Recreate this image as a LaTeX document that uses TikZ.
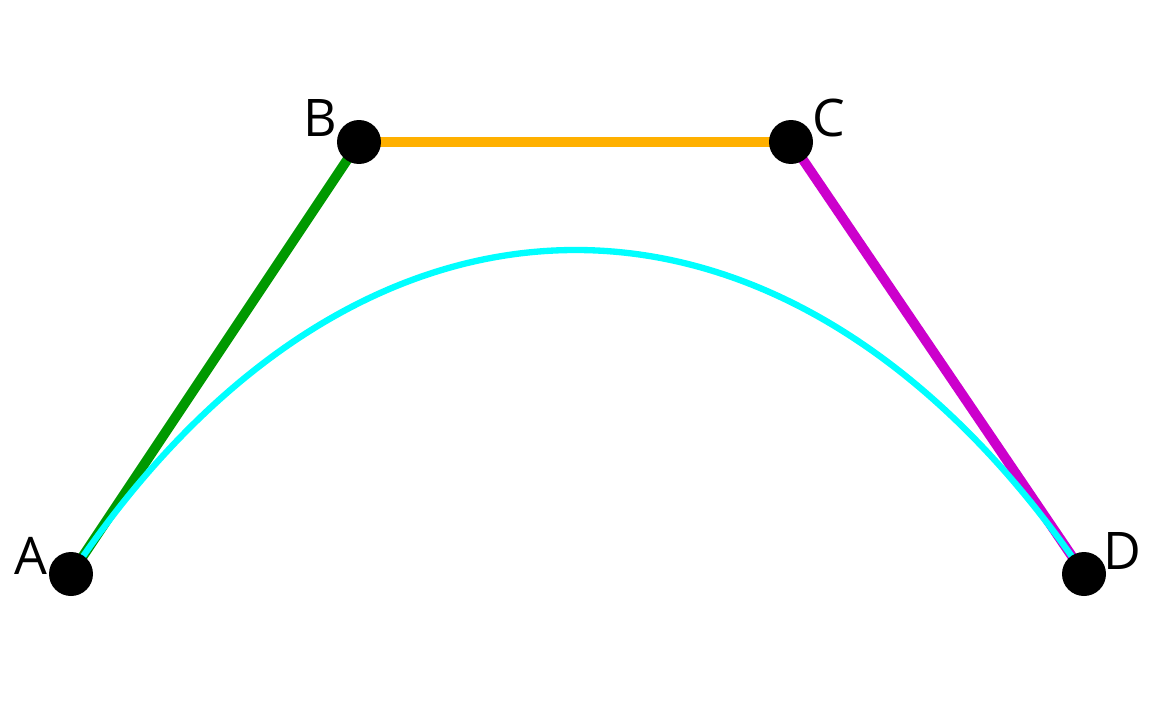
\documentclass[tikz,border=0pt]{standalone}
\usepackage{fontspec}
\setmainfont{Open Sans}
\definecolor{ptgreen}{RGB}{0,153,0}
\definecolor{ptorange}{RGB}{255,176,0}
\definecolor{ptmagenta}{RGB}{204,0,204}
\definecolor{ptcyan}{RGB}{0,255,255}
\tikzset{
  ctrl/.style={circle, fill=black, inner sep=0pt, minimum size=0.88cm},
  lbl/.style={inner sep=0pt, font=\fontsize{29.5}{30}\selectfont},
  leg/.style={line width=5.6pt},
}
\begin{document}
\begin{tikzpicture}[x=0.02cm, y=-0.02cm]
      \useasboundingbox (0,0) rectangle (1153,717);
      %
      \coordinate (pA) at (71,574);     % control points
      \coordinate (pB) at (359,142);
      \coordinate (pC) at (791,142);
      \coordinate (pD) at (1084,574);
      %
      \draw[leg, ptgreen] (pA) -- (pB);    % polygon
      \draw[leg, ptorange] (pB) -- (pC);
      \draw[leg, ptmagenta] (pC) -- (pD);
      %
      \draw[line width=3.6pt, ptcyan] (pA) .. controls (pB) and (pC) .. (pD); % curve
      %
      \node[ctrl] (A) at (pA) {};
      \node[ctrl] (B) at (pB) {};
      \node[ctrl] (C) at (pC) {};
      \node[ctrl] (D) at (pD) {};
      %
      \node[lbl] (lA) at (31,556) {A};     % labels
      \node[lbl] (lB) at (320,118) {B};
      \node[lbl] (lC) at (829,118) {C};
      \node[lbl] (lD) at (1122,551) {D};
      %
    \end{tikzpicture}
\end{document}
